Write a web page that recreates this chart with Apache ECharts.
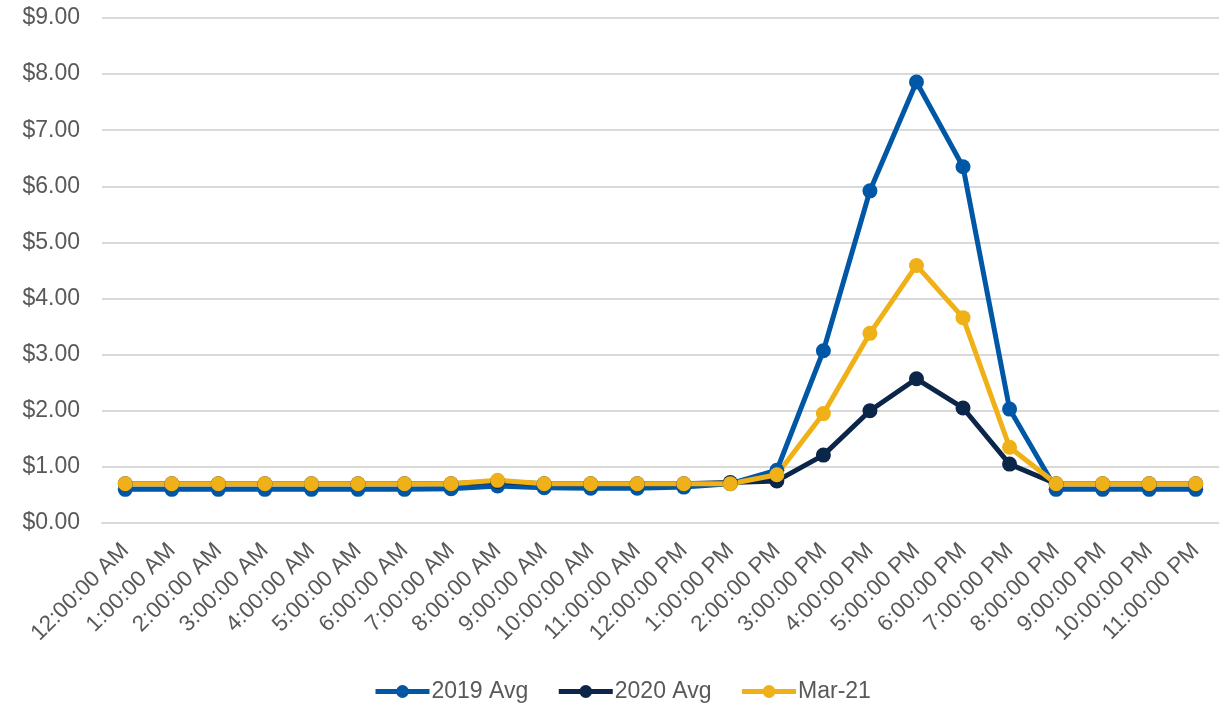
<!DOCTYPE html>
<html>
<head>
<meta charset="utf-8">
<script src="https://cdn.jsdelivr.net/npm/echarts@6/dist/echarts.min.js"></script>
<style>
  html, body { margin: 0; padding: 0; background: #fff; }
  #chart { width: 1219px; height: 705px; }
</style>
</head>
<body>
<div id="chart"></div>
<script>
// hours of the day
const hours = [
  '12:00:00 AM', '1:00:00 AM', '2:00:00 AM', '3:00:00 AM', '4:00:00 AM', '5:00:00 AM',
  '6:00:00 AM', '7:00:00 AM', '8:00:00 AM', '9:00:00 AM', '10:00:00 AM', '11:00:00 AM',
  '12:00:00 PM', '1:00:00 PM', '2:00:00 PM', '3:00:00 PM', '4:00:00 PM', '5:00:00 PM',
  '6:00:00 PM', '7:00:00 PM', '8:00:00 PM', '9:00:00 PM', '10:00:00 PM', '11:00:00 PM'
];

const avg2019 = [0.60, 0.60, 0.60, 0.60, 0.60, 0.60, 0.60, 0.61, 0.66, 0.63, 0.62, 0.62,
                 0.64, 0.70, 0.94, 3.07, 5.92, 7.86, 6.35, 2.03, 0.60, 0.60, 0.60, 0.60];
const avg2020 = [0.70, 0.70, 0.70, 0.70, 0.70, 0.70, 0.70, 0.70, 0.74, 0.70, 0.70, 0.70,
                 0.70, 0.72, 0.75, 1.21, 2.00, 2.57, 2.05, 1.05, 0.70, 0.70, 0.70, 0.70];
const mar21 = [0.70, 0.70, 0.70, 0.70, 0.70, 0.70, 0.70, 0.70, 0.76, 0.70, 0.70, 0.70,
               0.70, 0.70, 0.86, 1.95, 3.38, 4.59, 3.66, 1.35, 0.70, 0.70, 0.70, 0.70];

const chart = echarts.init(document.getElementById('chart'));

function lineSeries(name, data, color) {
  return {
    name: name,
    type: 'line',
    data: data,
    symbol: 'circle',
    symbolSize: 15,
    lineStyle: { width: 5, color: color },
    itemStyle: { color: color },
    emphasis: { disabled: true }
  };
}

chart.setOption({
  animation: false,
  textStyle: { fontFamily: 'Liberation Sans, Arial, sans-serif' },
  grid: { left: 102, right: 0, top: 18, bottom: 182 },
  legend: {
    bottom: -3,
    left: 368,
    itemWidth: 54,
    itemHeight: 16,
    itemGap: 28,
    lineStyle: { width: 5 },
    textStyle: { fontSize: 23, color: '#595959', padding: [0, 0, 0, -3] },
    data: ['2019 Avg', '2020 Avg', 'Mar-21']
  },
  xAxis: {
    type: 'category',
    data: hours,
    boundaryGap: true,
    axisLine: { lineStyle: { color: '#d9d9d9', width: 2 } },
    axisTick: { show: false },
    axisLabel: { rotate: 45, fontSize: 22.5, color: '#595959', margin: 24, interval: 0 }
  },
  yAxis: {
    type: 'value',
    min: 0,
    max: 9,
    interval: 1,
    axisLine: { show: false },
    axisTick: { show: false },
    splitLine: { lineStyle: { color: '#d9d9d9', width: 2 } },
    axisLabel: {
      fontSize: 23,
      color: '#595959',
      margin: 22,
      formatter: v => '$' + v.toFixed(2)
    }
  },
  series: [
    lineSeries('2019 Avg', avg2019, '#0057a6'),
    lineSeries('2020 Avg', avg2020, '#0b2649'),
    lineSeries('Mar-21', mar21, '#efb018')
  ]
});
</script>
</body>
</html>
